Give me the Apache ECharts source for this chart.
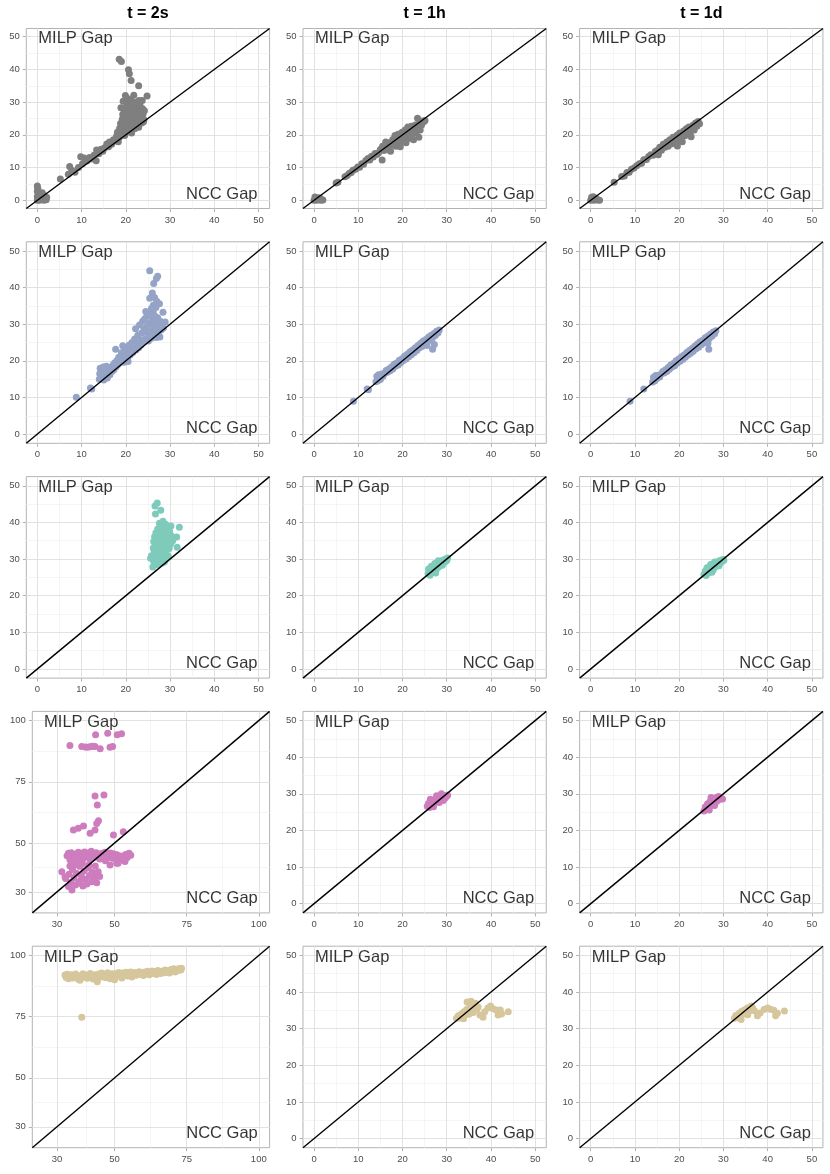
<!DOCTYPE html>
<html><head><meta charset="utf-8">
<script src="https://cdn.jsdelivr.net/npm/echarts@6/dist/echarts.min.js"></script>
<style>html,body{margin:0;padding:0;background:#fff}#c{width:830px;height:1174px}</style>
</head><body><div id="c"></div>
<script>
// ---------- DATA ----------
const colTitles = ['t = 2s', 't = 1h', 't = 1d'];
const rowColors = ['#7f7f7f', '#94a3c6', '#7fcbbb', '#cd7dbd', '#d6c69c'];
const annotLabels = ['MILP Gap', 'NCC Gap'];

const rangeStd = [-2.5, 52.5];
const ticksStd = [0, 10, 20, 30, 40, 50];
const minorStd = [5, 15, 25, 35, 45];
const annotStd = [0, 50];

const rangeWide = [21.45, 103.75];
const ticksWide = [30, 50, 75, 100];
const minorWide = [40, 62.5, 87.5];
const annotWide = [25.2, 100];

// Row 1 (grey)
const pts_r1c1 = [
 [0,4.4],[0.1,3.6],[0,2.8],[0.3,2.2],[0.6,1.8],[0,1.2],[0.2,0.6],[0,0],[0.5,0],[0.9,0.4],[1.2,1],[1.4,1.6],[1.1,2.3],[1.7,0.6],[2,0.2],[2.1,0.9],[1.5,0],[0.8,1.2],
 [5.2,6.5],[7,8],[7.3,10.3],[7.8,9.2],[8.5,8.6],[9.3,10],[9.8,13.3],[10.2,11.2],[10.6,12.9],[11.2,12],[11.8,13.1],[12.2,12.6],[12.8,13.8],[13.3,12.1],[13.4,15.4],[13.9,14.2],[14.4,15.6],[14.8,15],[15.2,16.1],[15.7,17.2],[16.1,16.4],[16.3,17.8],[16.8,17.1],[17.2,18.5],[17.6,18.2],[17.9,19.6],[18.3,17.9],[18.1,20.8],[18.5,19.2],
 [18.6,22],[18.8,23.5],[19,21],[19.2,24.8],[19.3,26.2],[19.5,22.6],[19.6,27.5],[19.8,20],[19.9,23.8],[20,25.5],[20.1,28.6],[20.3,21.3],[20.4,26.8],[20.6,24],[20.7,29.8],[20.8,22.4],[21,27.6],[21.1,25],[21.3,20.6],[21.4,23.2],[21.5,28.5],[21.7,26.2],[21.8,24.1],[22,21.9],[22,29.2],[22.2,27],[22.3,25.3],[22.5,23],[22.6,28.1],[22.8,26.1],[22.9,22.3],[23,24.4],[23.2,29],[23.3,27.3],[23.5,25.2],[23.6,23.6],[23.8,28],[23.9,26.4],[24.1,24.6],[24.2,27.4],[19.4,30.3],[20.5,31],[21.2,30.6],[22.4,30],[23.7,30.5],[18.9,28.3],[19.7,19.8],[20.9,21],[22.7,22.8],[24,24],
 [18.5,43.1],[19,42.4],[20.6,39.9],[20.8,38.7],[21.2,36.6],[22.9,35],[24.8,31.9],[19.9,32],[21.8,32.1],[23,30.5]
];
const pts_r1c2 = [
 [0,0],[0.3,0.5],[0.6,0],[1,0.8],[1.2,0.2],[1.6,0],[2,0.1],[0.2,1],[1.4,0.6],
 [5,5.3],[5.4,5.5],
 [7,7.2],[7.5,7.6],[8,8.3],[8.4,8.5],[8.8,9.2],[9.4,9.5],[9.9,10.2],[10.3,10.1],[10.8,11.2],[11.2,11],[11.7,12.2],[12.2,12.8],[12.6,12.3],[13,13.5],[13.4,13.2],[13.8,14.3],[14.2,14],[14.6,14.5],[15.4,12.3],
 [15,15.5],[15.5,16.5],[15.8,15.2],[16.2,17.8],[16.4,16.2],[16.8,15.5],[17,17.6],[17.3,15],[17.5,16.8],[17.8,18.6],[18,17.3],[18.3,19.8],[18.5,16.5],[18.8,18.4],[19,20.2],[19.2,17.5],[19.5,16.4],[19.6,19.2],[19.9,20.8],[20.1,18.2],[20.4,19.6],[20.6,21.5],[20.8,17.6],[21,20.2],[21.2,22.4],[21.4,18.9],[21.7,21],[21.9,19.5],[22,22.6],[22.3,20.3],[22.5,18.5],[22.6,21.8],[22.9,23],[23.1,20.8],[23.4,25.1],[23.5,22.2],[23.8,23.5],[24,21.5],[24.3,23],[24.6,24.2],[24.8,24],[25.1,24.4],[23.7,19.3]
];
const pts_r1c3 = [
 [0,0],[0.4,0.4],[0.8,0],[1.2,0.6],[1.6,0.1],[2,0],[0.2,0.9],[0.6,1.1],
 [5.3,5.5],[7,7.3],[7.6,7.4],[8.2,8.5],[8.7,8.6],[9.2,9.5],[9.8,9.9],[10.4,10.6],[11,11.2],[11.5,11.3],[12,12.4],[12.6,12.5],[13.1,13.4],[13.6,13.9],[14.1,13.8],[14.6,14.9],[15,15.2],[15.3,13.9],
 [15.6,16.2],[16,15.3],[16.4,17.1],[16.8,16.2],[17.2,17.8],[17.5,16.5],[17.9,18.5],[18.2,17.2],[18.6,19.3],[18.9,18],[19.2,17.4],[19.5,19.9],[19.8,18.6],[20.1,20.6],[20.4,19.1],[20.7,17.9],[21,21.2],[21.3,19.7],[21.6,21.9],[21.9,20.3],[22.2,22.4],[22.5,20.8],[22.8,21.8],[23.1,22.9],[23.4,21.5],[23.7,23.6],[24,22.6],[24.3,24.1],[24.6,23.4],[22.7,19.4],[19.6,16.6]
];
// Row 2 (blue)
const pts_r2c1 = [
 [8.8,10.1],[12,12.6],[12.3,12.3],
 [14,15],[14.1,16.5],[14.2,18],[14.4,17.2],[14.5,15.8],[14.7,16.8],[14.9,18.3],[15,14.8],[15.2,17.6],[15.4,16],[15.6,18.5],[15.8,15.3],[16,17],[16.2,18.2],[16.4,16.2],[16.6,17.8],[16.9,17.2],[17.1,18.9],[17.3,17.6],[17.5,19.5],[17.7,23.2],[17.8,18.4],[18,20.1],[18.2,19],[18.4,21],[18.6,19.4],[18.8,20.6],[19,22.2],[19.2,20],[19.3,24.1],[19.5,21.5],[19.6,19.6],[19.8,22.8],[20,21],[20.2,23.5],[20.4,20.7],[20.6,22.1],[20.8,24.3],[21,21.6],[21.2,23.2],[21.4,25],[21.6,22.3],[21.8,24],[22,26],[22.2,28.8],[22.3,23],[22.5,25.2],[22.7,27],[22.9,23.6],[23.1,29.8],[23.2,25.8],[23.4,24.3],[23.6,27.6],[23.8,30.8],[23.9,25.1],[24.1,28.5],[24.3,31.5],[24.4,26],[24.6,29.2],[24.8,32.3],[25,27.3],[25.1,25.4],[25.3,30.2],[25.5,32.8],[25.6,28],[25.8,26.2],[25.9,31.2],[26.1,29.1],[26.2,33.5],[26.4,27],[26.5,30.6],[26.6,32.2],[26.8,28.3],[26.9,26.4],[27,30],[27.2,31.8],[27.4,27.8],[27.5,29.2],[27.7,26.5],[27.8,30.8],[28,28.5],[28.2,29.8],[28.4,33.3],[28.5,29],[28.9,30.6],[20.5,19.8],[19.2,19.8],
 [25.4,44.6],[27.2,43.1],[26.9,42.5],[26.3,41.1],[26,38.5],[26.5,37.3],[25.4,37.1],[27,36.3],[27.6,35.6],[26.2,35.2],[25.8,34.3],[26.8,34.6],[24.5,33.5]
];
const pts_r2c2 = [
 [8.9,9],[12,12.3],[12.3,12.1],[14,14.3],[14.2,15.8],[14.4,14.6],[14.6,16.2],[14.8,15.4],[15,14.9],[15.3,16.4],[15.6,15.8],[16,16.6],[16.3,17.4],[16.6,16.9],[16.9,17.8],[17.2,17.3],[17.5,18.3],[17.8,17.8],[18.1,19.1],[18.4,18.5],[18.7,19.4],[19,18.9],[19.3,20.2],[19.6,19.5],[19.9,20.6],[20.2,20.1],[20.5,21.3],[20.8,20.5],[21.1,21.8],[21.4,21.1],[21.7,22.5],[22,21.7],[22.3,23],[22.6,22.2],[22.9,23.6],[23.2,22.8],[23.5,24.2],[23.8,23.5],[24.1,24.8],[24.4,23.9],[24.7,25.4],[25,24.6],[25.3,25.8],[25.6,25.1],[25.9,26.5],[26.2,25.7],[26.5,27],[26.8,26.3],[27.1,27.5],[27.4,26.9],[27.7,28.1],[28,27.6],[28.3,28.4],[26.8,23.2],[27.2,24.5],[25.5,24.2]
];
const pts_r2c3 = [
 [8.9,9],[12,12.3],[14,14.2],[14.2,15.5],[14.5,14.6],[14.7,16],[15,15.2],[15.3,16.1],[15.6,15.6],[16,16.5],[16.3,17.1],[16.6,16.7],[16.9,17.6],[17.2,17.1],[17.5,18.2],[17.8,17.7],[18.1,18.9],[18.4,18.3],[18.7,19.3],[19,18.7],[19.3,20],[19.6,19.4],[19.9,20.5],[20.2,19.9],[20.5,21.1],[20.8,20.4],[21.1,21.6],[21.4,21],[21.7,22.3],[22,21.6],[22.3,22.8],[22.6,22.1],[22.9,23.4],[23.2,22.6],[23.5,24],[23.8,23.3],[24.1,24.6],[24.4,23.7],[24.7,25.2],[25,24.4],[25.3,25.6],[25.6,24.9],[25.9,26.3],[26.2,25.5],[26.5,26.8],[26.8,26.1],[27.1,27.3],[27.4,26.7],[27.7,27.9],[28,27.4],[28.3,28.2],[26.7,23.2],[26.5,24.8]
];
// Row 3 (teal)
const pts_r3c1 = [
 [27.1,45.3],[26.6,44.5],[27.9,43.3],[26.7,42.3],[32.1,38.7],[31.5,36],[31.6,33.2],
 [28.4,40.3],[27.6,39.8],[29,39.5],[28,38.8],[29.6,38.5],[27.2,38.2],[28.6,37.8],[26.8,37.2],[29.9,37.5],[27.8,36.9],[29.2,36.6],[26.5,36.1],[28.3,35.9],[30.4,36.2],[27.4,35.4],[29.7,35.3],[26.3,34.8],[28.8,34.6],[27.9,34],[26.9,33.7],[30.1,34.1],[29.3,33.4],[26.2,33],[28.2,32.9],[27.3,32.4],[29.1,32],[26.5,31.8],[28.5,31.4],[27.6,31],[25.8,30.9],[29.6,30.8],[26.8,30.3],[28.9,29.9],[27.5,29.6],[26.3,29.3],[28.2,28.9],[27,28.5],[26.1,27.8],[25.6,30.2],[29.8,32.9],[30.6,35],[28.7,29.2],[27.9,37.8],[26.7,35.5],[30.2,39],[28.1,33.6],[26.4,32.3],[27.7,30.4]
];
const pts_r3c2 = [
 [25.8,26],[26,26.8],[26.2,25.6],[26.4,27.2],[26.6,26.3],[26.8,27.8],[27,26.9],[27.2,27.4],[27.4,28.3],[27.6,27],[27.8,28.6],[28,27.7],[28.2,28.9],[28.4,28.1],[28.6,29.3],[28.8,28.5],[29,29.6],[29.2,28.9],[29.4,29.8],[29.6,29.2],[29.8,30],[30,29.6],[26.5,28],[27.3,28.8],[28.1,29.5],[25.9,27.3],[27.5,26.2],[29,28.3],[30.2,30.3]
];
const pts_r3c3 = [
 [25.6,25.8],[25.9,26.6],[26.1,25.5],[26.4,27],[26.6,26.2],[26.8,27.5],[27,26.7],[27.3,27.6],[27.5,28.1],[27.7,27.1],[27.9,28.5],[28.1,27.8],[28.3,28.8],[28.5,28.1],[28.7,29.2],[28.9,28.6],[29.1,29.5],[29.3,28.9],[29.5,29.7],[29.7,29.3],[29.9,29.9],[30.1,29.7],[26.3,27.6],[27.1,28.5],[28,29.2],[26,26.9],[27.4,26.4],[29,28.2]
];
// Row 4 (pink)
const pts_r4c1 = [
 [34.5,89.8],[38.6,89.4],[39.8,89.2],[40.6,89.1],[41.5,89.3],[42.3,89.5],[43.2,89.4],[45,88.5],[48.4,89.1],[49.3,89.4],[43.4,94.2],[47.6,94.8],[50.9,94.2],[52.4,94.6],
 [43.2,69.2],[46.3,69.6],[44,65.5],
 [35.7,55.3],[37.4,56],[39.2,56.9],[41.5,54],[43.2,55.3],[43.8,58],[44.4,59.1],[49.6,53.3],[53,54.6],
 [33.5,44.8],[34,45.8],[34.5,43.2],[35,46],[35.6,44.2],[36.2,45.4],[36.8,42.8],[37.4,46.2],[38,44.5],[38.5,45.8],[39,43.4],[39.6,46.3],[40.2,44.8],[40.8,45.9],[41.3,43.6],[41.9,46.6],[42.5,45.1],[43,44.2],[43.6,46],[44.2,45],[44.8,43.5],[45.4,45.7],[46,44.6],[46.6,46.2],[47.2,45.2],[47.8,44],[48.4,45.9],[49,44.9],[49.6,45.6],[50.2,44.3],[50.8,45.2],[51.4,43.8],[52,44.7],[52.6,43.2],[53.2,44.4],[53.8,45.3],[54.4,44.1],[55,45.8],[55.6,45],[51.2,41.7],[49.5,43.7],[46.8,42.8],[54.8,45.1],[53.6,42.4],[48.4,41],[50.7,41.7],
 [31.7,38.3],[32.8,36.2],[34,32.2],[33,35.5],[34.2,37.2],[34.8,33.9],[35.4,39.2],[35.9,35.8],[36.4,32.8],[36.8,37.6],[37.4,33.6],[37.8,40.5],[38,34.5],[38.5,36.4],[39,32.4],[39.4,38.6],[39.9,35.2],[40.4,33.3],[40.9,39.8],[41.3,36.7],[42.1,34.2],[42.3,38.1],[42.8,35.5],[43.2,36.3],[43.3,40.6],[43.8,33.8],[44.3,38.3],[44.8,36.3],[36.2,41.2],[38.8,41.5],[41,41],[34.5,40.6],[35.2,30.8]
];
const pts_r4c2 = [
 [25.6,26.6],[25.9,27.4],[26.1,26.3],[26.4,27.8],[26.6,26.9],[26.9,28.2],[27.1,27.3],[27.4,28.6],[27.6,27.8],[27.9,29],[28.1,28.2],[28.4,29.4],[28.6,28.6],[28.9,29.7],[29.1,28.9],[29.4,29.5],[29.6,28.8],[29.9,29.3],[27,26.5],[28.3,27.6],[29.2,28.2],[26.3,28.5],[27.7,29.5],[28.8,30],[30.2,29.6]
];
const pts_r4c3 = [
 [25.6,25.3],[25.9,26.4],[26.2,25.8],[26.4,27.2],[26.7,26.3],[26.9,27.8],[27.2,26.9],[27.4,28.2],[27.7,27.4],[27.9,28.7],[28.2,27.8],[28.4,29],[28.7,28.3],[28.9,29.3],[29.2,28.5],[29.5,28.7],[26.8,25.6],[28,26.8],[27.2,29],[28.5,28],[29.8,28.6]
];
// Row 5 (tan)
const pts_r5c1 = [
 [32.8,92],[33.2,91],[33.6,92.3],[34,90.5],[34.5,91.5],[35,92.1],[35.5,90.8],[36,91.7],[36.5,92.4],[37,91.2],[37.5,90.2],[38,89.8],[38.5,91.8],[39,92.5],[39.5,91.1],[40,92],[40.5,90.7],[41,91.6],[41.5,92.6],[42,91.3],[42.5,90.4],[43,92.1],[43.5,91],[44,89.2],[44.1,90.3],[44.5,92.4],[45,91.5],[45.5,92.8],[46,91.2],[46.5,92.2],[47,90.9],[47.5,92.9],[48,91.8],[48.5,90.5],[49,92.5],[49.5,91.2],[50,90],[50.5,92.6],[51,91.6],[51.5,93],[52,92.1],[52.5,90.8],[53,92.8],[53.5,91.9],[54,93.1],[54.5,91.6],[55,92.5],[55.5,93.2],[56,91.2],[56.5,92.3],[57,93],[57.5,91.9],[58,92.8],[58.5,93.3],[59,92.2],[59.5,92.9],[60,91.8],[60.5,93.2],[61,92.5],[61.5,93.5],[62,92.1],[62.5,93],[63,93.6],[63.5,92.6],[64,93.3],[64.5,92.2],[65,93.8],[65.5,93],[66,92.6],[66.5,93.5],[67,92.9],[67.5,94],[68,93.1],[68.5,93.7],[69,92.8],[69.5,94.2],[70,93.5],[70.5,94.5],[71,93.2],[71.5,94.3],[72,93.8],[72.5,94.6],[73,94],[73.2,94.7],
 [38.6,74.7]
];
const pts_r5c2 = [
 [32.2,32.8],[32.6,33.5],[33,32.9],[33.3,34],[33.6,33.3],[33.9,34.6],[34.2,33.8],[34.5,35.2],[34.6,37.3],[34.9,34.4],[35.2,36],[35.5,37.5],[35.6,35.2],[35.9,36.5],[36.2,35.6],[36.5,36.9],[36.8,35.3],[37.1,35.9],[37.5,33.7],[38.2,33.1],[38.6,34.6],[39.3,35.6],[39.9,36.2],[40.5,35.4],[41.2,35.1],[41.6,33.7],[42.1,35.1],[42.4,34],[43.9,34.6],[33.8,32.7],[35,33.9],[36,34.4]
];
const pts_r5c3 = [
 [32.5,32.8],[32.8,33.6],[33.2,33],[33.5,34.1],[33.8,33.4],[34.1,34.7],[34.4,33.9],[34.7,35.1],[35.1,35.1],[35.4,35.6],[35.8,34.8],[36.1,35.9],[36.6,35.6],[37,34.9],[37.7,33.5],[38.3,34.3],[39.2,35.2],[40,35.6],[40.6,35.3],[41.4,35],[41.8,33.5],[42.2,34.2],[43.8,34.8],[34,32.5],[35.5,33.8],[36.3,36.2]
];

const panelData = [
  [pts_r1c1, pts_r1c2, pts_r1c3],
  [pts_r2c1, pts_r2c2, pts_r2c3],
  [pts_r3c1, pts_r3c2, pts_r3c3],
  [pts_r4c1, pts_r4c2, pts_r4c3],
  [pts_r5c1, pts_r5c2, pts_r5c3]
];

// ---------- LAYOUT ----------
const FONT = '"Liberation Sans", Arial, Helvetica, sans-serif';
const grids = [], xAxes = [], yAxes = [], series = [], graphics = [];

for (let r = 0; r < 5; r++) {
  for (let c = 0; c < 3; c++) {
    const i = r * 3 + c;
    const wide = (c === 0 && r >= 3);
    const rng = wide ? rangeWide : rangeStd;
    const ticks = wide ? ticksWide : ticksStd;
    const minor = wide ? minorWide : minorStd;
    const ann = wide ? annotWide : annotStd;
    const tileX = c * 276.67, tileY = r * 234.8;
    const left = tileX + (wide ? 32.3 : 26.3);
    const right = tileX + 269.6;
    const top = r === 0 ? 28.5 : tileY + 7;
    const bottom = tileY + 208.5;
    grids.push({left, top, width: right - left, height: bottom - top, show: true,
      borderColor: '#b3b3b3', borderWidth: 1, backgroundColor: '#ffffff',
      containLabel: false, outerBoundsMode: 'none'});
    const mkAxis = () => ({
      type: 'value', gridIndex: i, min: rng[0], max: rng[1],
      splitLine: {show: false}, minorSplitLine: {show: false},
      axisLine: {show: false, onZero: false},
      axisTick: {show: true, length: 3.5, customValues: ticks, lineStyle: {color: '#b3b3b3', width: 1}},
      axisLabel: {show: true, customValues: ticks, margin: 6.5, fontSize: 9.5, color: '#4d4d4d', fontFamily: FONT}
    });
    xAxes.push(mkAxis());
    yAxes.push(mkAxis());

    const gl = [];
    minor.forEach(v => { gl.push({xAxis: v, lineStyle: {color: '#f1f1f1', width: 0.7, type: 'solid'}}); gl.push({yAxis: v, lineStyle: {color: '#f1f1f1', width: 0.7, type: 'solid'}}); });
    ticks.forEach(v => { gl.push({xAxis: v, lineStyle: {color: '#e2e2e2', width: 1, type: 'solid'}}); gl.push({yAxis: v, lineStyle: {color: '#e2e2e2', width: 1, type: 'solid'}}); });
    series.push({type: 'line', xAxisIndex: i, yAxisIndex: i, data: [[rng[0], rng[0]]], showSymbol: false, silent: true, z: 1,
      lineStyle: {opacity: 0},
      markLine: {silent: true, z: 1, zlevel: 0, symbol: ['none', 'none'], label: {show: false}, animation: false, emphasis: {disabled: true}, data: gl}});

    series.push({type: 'scatter', xAxisIndex: i, yAxisIndex: i, data: panelData[r][c], symbolSize: 7,
      itemStyle: {color: rowColors[r], opacity: 1}, silent: true, z: 10});

    series.push({type: 'line', xAxisIndex: i, yAxisIndex: i, data: [[rng[0], rng[0]], [rng[1], rng[1]]],
      symbol: 'none', lineStyle: {color: '#000000', width: 1.4}, silent: true, z: 11});

    series.push({type: 'scatter', xAxisIndex: i, yAxisIndex: i, symbolSize: 1, silent: true, z: 12,
      itemStyle: {color: 'rgba(0,0,0,0)'},
      data: [
        {value: [ann[0], ann[1]], label: {show: true, formatter: annotLabels[0], position: 'right', distance: 0.5, offset: [0, 1.7], fontSize: 16.5, color: '#000', fontFamily: FONT}},
        {value: [ann[1], ann[0]], label: {show: true, formatter: annotLabels[1], position: 'left', distance: 0.5, offset: [0, -5.5], fontSize: 16.5, color: '#000', fontFamily: FONT}}
      ]});

    if (r === 0) {
      graphics.push({type: 'text', x: (left + right) / 2, y: 13.3,
        style: {text: colTitles[c], fontSize: 16, fontWeight: 'bold', fill: '#000', fontFamily: FONT, align: 'center', verticalAlign: 'middle'}});
    }
  }
}

const chart = echarts.init(document.getElementById('c'), null, {renderer: 'canvas'});
chart.setOption({
  animation: false,
  backgroundColor: '#ffffff',
  grid: grids, xAxis: xAxes, yAxis: yAxes, series: series, graphic: graphics
});
</script>
</body></html>
